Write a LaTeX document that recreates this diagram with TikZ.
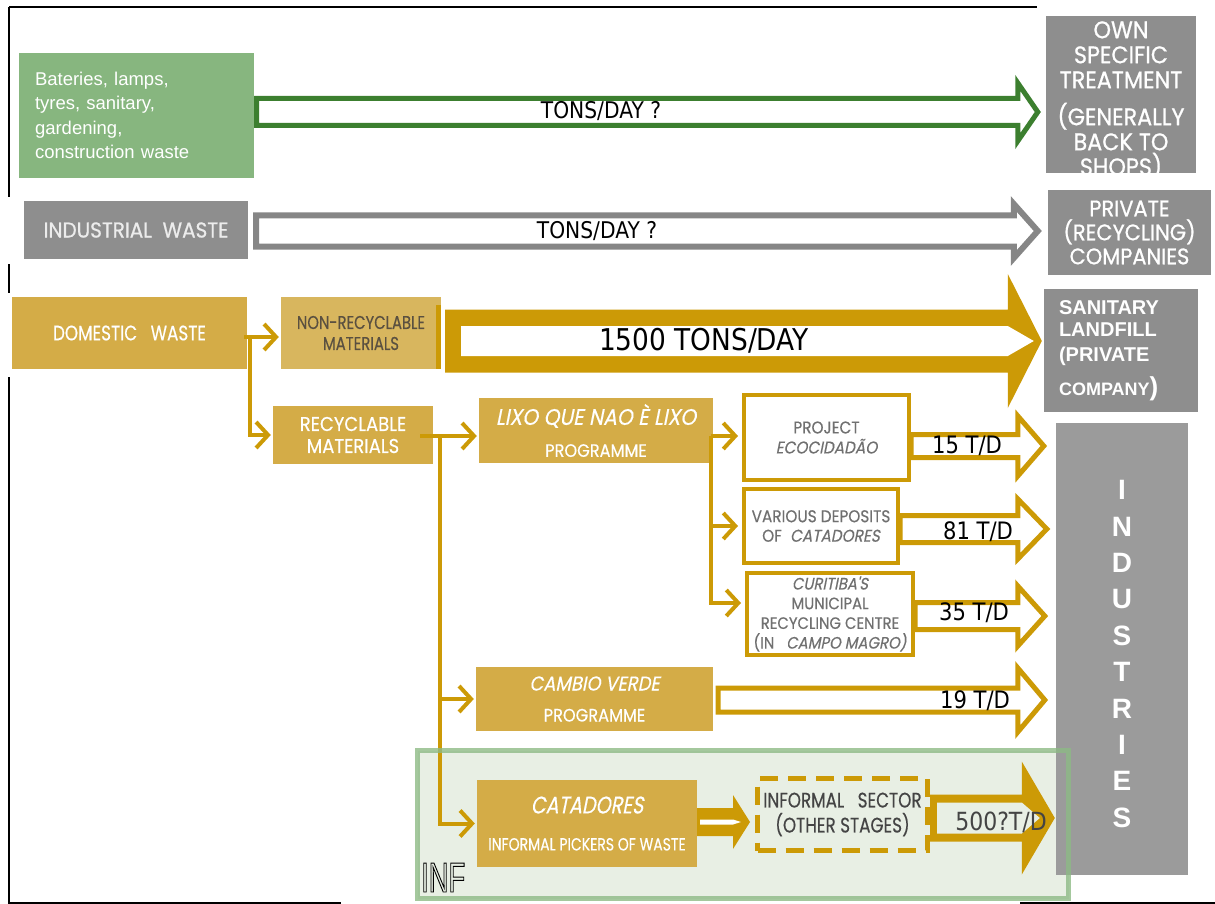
\documentclass[tikz,border=0pt]{standalone}
\usepackage{fontspec}
\setmainfont{Liberation Sans}
\newfontfamily\goth[FakeStretch=0.8,FakeBold=0.4]{Poppins}
\newfontfamily\gothi[FakeStretch=0.8,FakeSlant=0.2,FakeBold=0.4]{Poppins}
\newfontfamily\gothm[FakeStretch=0.9,FakeBold=0.4]{Poppins}
\newfontfamily\gothmi[FakeStretch=0.9,FakeSlant=0.2,FakeBold=0.4]{Poppins}
\newfontfamily\gothw[FakeStretch=0.93,FakeBold=0.8]{Poppins}
\newfontfamily\tdfont[FakeStretch=0.88]{DejaVu Sans}
\newfontfamily\narrowfont[FakeStretch=0.65]{Liberation Sans}
\usetikzlibrary{arrows.meta,calc}

\definecolor{goldfill}{HTML}{D4AC47}
\definecolor{goldlight}{HTML}{D8B65E}
\definecolor{goldline}{HTML}{CC9A06}
\definecolor{greenfill}{HTML}{87B67F}
\definecolor{greenline}{HTML}{3C7F2F}
\definecolor{grayfill}{HTML}{8E8E8E}
\definecolor{indgray}{HTML}{9B9B9B}
\definecolor{grayline}{HTML}{868686}
\definecolor{graylight}{HTML}{ECECEC}
\definecolor{infback}{HTML}{E8EFE4}
\definecolor{infline}{HTML}{8DBA85}
\definecolor{textgray}{HTML}{707070}
\definecolor{darktext}{HTML}{5A5040}
\definecolor{labelgray}{HTML}{444444}

\newcommand\fs[2]{\fontsize{#1}{#2}\selectfont}

% hollow block arrow: style, start point, tip point, half shaft, half head, head length
\newcommand\fatarrow[6]{%
  \path[#1] let \p1=#2, \p2=#3 in
    (\x1,\y1+#4) -- (\x2-#6,\y1+#4) -- (\x2-#6,\y1+#5) -- (\x2,\y1)
    -- (\x2-#6,\y1-#5) -- (\x2-#6,\y1-#4) -- (\x1,\y1-#4) -- cycle;}

\tikzset{
  gbox/.style={fill=goldfill, inner sep=0pt, align=center, text=white},
  graybox/.style={fill=grayfill, inner sep=0pt, align=center, text=white},
  wbox/.style={draw=goldline, line width=4pt, fill=white, inner sep=0pt, align=center, text=textgray},
  conn/.style={draw=goldline, line width=4pt, -{Straight Barb[length=12pt,width=26pt]}},
  lbl/.style={inner sep=0pt, font=\tdfont\fs{23}{23}},
  hollowgold/.style={draw=goldline, line width=5pt, fill=white},
}

\begin{document}
\begin{tikzpicture}[x=1pt,y=-1pt]
\useasboundingbox (0,0) rectangle (1215,904);

% frame
\draw[line width=2pt] (9,7) -- (1037,7);
\draw[line width=2pt] (9,7) -- (9,197) (9,264) -- (9,293) (9,377) -- (9,903) -- (341,903);
\draw[line width=2pt] (1020,903) -- (1215,903);

% informal sector area
\node[fill=infback, minimum width=651pt, minimum height=148pt, inner sep=0pt] (inf) at (743,824.5) {};

% sources and destinations
\node[fill=greenfill, text=white, align=left, text width=203pt, inner xsep=16pt, inner ysep=0pt,
      minimum width=235pt, minimum height=125pt, font=\fs{18.5}{24.3}] (green) at (136.5,115.5)
      {\raisebox{3pt}{\parbox{203pt}{Bateries, lamps,\\tyres, sanitary,\\gardening,\\construction waste}}};
\node[graybox, text=graylight, minimum width=224pt, minimum height=58pt, font=\gothw\fs{21.5}{24}] (indw) at (136,230) {INDUSTRIAL\ \ WASTE};

\begin{scope}
  \clip (1046,16) rectangle (1196,173);
  \node[graybox, minimum width=150pt, minimum height=169pt, font=\gothw\fs{24}{25}] (own) at (1121,100.5)
    {OWN\\SPECIFIC\\TREATMENT\\[12pt](GENERALLY\\BACK TO\\SHOPS)};
\end{scope}
\node[graybox, minimum width=163pt, minimum height=85pt, font=\gothw\fs{22.5}{24}] (priv) at (1129.5,232.5) {PRIVATE\\(RECYCLING)\\COMPANIES};
\node[graybox, align=left, text width=124pt, minimum width=154pt, minimum height=123pt, font=\bfseries\fs{20}{22}] (landfill) at (1121,350.5)
  {SANITARY\\LANDFILL\\[3pt](PRIVATE\\[10pt]{\fs{18}{22}COMPANY}{\fs{26}{22})}};
\node[graybox, fill=indgray, minimum width=132pt, minimum height=452pt,
      label={[align=center, text=white, font=\bfseries\fs{28}{36.4}, yshift=-5pt]center:I\\N\\D\\U\\S\\T\\R\\I\\E\\S}] (ind) at (1122,649) {};

% domestic waste chain
\node[gbox, minimum width=235pt, minimum height=72pt, font=\goth\fs{21}{24}] (dom) at (129.5,333) {DOMESTIC\ \ \ WASTE};
\node[gbox, fill=goldlight, text=darktext, minimum width=160pt, minimum height=72pt, font=\goth\fs{18.5}{21}] (nonrec) at (361,333) {NON-RECYCLABLE\\MATERIALS};
\fill[goldline] ($(nonrec.north east)+(-5,8)$) rectangle (nonrec.south east);
\node[gbox, minimum width=160pt, minimum height=58pt, font=\gothm\fs{20}{22}] (recyc) at (353,435) {RECYCLABLE\\MATERIALS};
\node[gbox, minimum width=234pt, minimum height=65pt, font=\gothm\fs{18}{32}] (lixo) at (596,430.5) {{\gothmi\fs{22.5}{32}LIXO QUE NAO È LIXO}\\PROGRAMME};
\node[wbox, minimum width=165pt, minimum height=85pt, font=\gothm\fs{17}{20}] (eco) at (826.5,437.5) {PROJECT\\{\gothmi ECOCIDADÃO}};
\node[wbox, minimum width=154pt, minimum height=74pt, font=\gothm\fs{17}{19.5}] (dep) at (821,526) {VARIOUS DEPOSITS\\OF\ \ {\gothmi CATADORES}};
\node[wbox, minimum width=166pt, minimum height=82pt, font=\gothm\fs{16.5}{19.7}] (cur) at (830,614)
  {{\gothmi CURITIBA'S}\\MUNICIPAL\\RECYCLING CENTRE\\(IN\ \ \ {\gothmi CAMPO MAGRO)}};
\node[gbox, minimum width=237pt, minimum height=64pt, font=\gothm\fs{18}{31}] (cambio) at (594.5,699) {{\gothmi\fs{20}{31}CAMBIO VERDE}\\PROGRAMME};
\node[gbox, minimum width=220pt, minimum height=87pt, font=\goth\fs{17.5}{37}] (cat) at (587,823.5) {{\gothi\fs{24}{37}CATADORES}\\INFORMAL PICKERS OF WASTE};
\node[draw=goldline, line width=5pt, dash pattern=on 18pt off 10pt, inner sep=0pt, align=center, text=labelgray,
      minimum width=170pt, minimum height=72pt, font=\goth\fs{21}{25}] (infs) at (842.5,814.5) {INFORMAL\ \ \ SECTOR\\(OTHER STAGES)};

% block arrows
\fatarrow{draw=greenline, line width=5pt, fill=white}{([xshift=2.5pt,yshift=3.5pt]green.east)}{([xshift=-8pt]own.west)}{13.5pt}{29pt}{20pt}
\fatarrow{draw=grayline, line width=6pt, fill=white}{([xshift=8pt,yshift=-1pt]indw.east)}{([xshift=-10pt]priv.west)}{15.5pt}{27pt}{24pt}
\fatarrow{fill=goldline}{([xshift=4pt,yshift=-8pt]nonrec.east)}{([xshift=-2pt]landfill.west)}{31.5pt}{67pt}{34pt}
\fatarrow{fill=white}{([xshift=20pt,yshift=-8pt]nonrec.east)}{([xshift=-10pt]landfill.west)}{15pt}{15pt}{26pt}
\fatarrow{hollowgold}{([yshift=-8.5pt]eco.east)}{([xshift=-12pt]ind.west)}{11.5pt}{30pt}{26pt}
\fatarrow{hollowgold}{([yshift=-3pt]dep.east)}{([xshift=-9pt]ind.west)}{13.5pt}{30pt}{29pt}
\fatarrow{hollowgold}{([yshift=-2pt]cur.east)}{([xshift=-11pt]ind.west)}{13.5pt}{30pt}{27pt}
\fatarrow{hollowgold}{([xshift=5pt,yshift=-1pt]cambio.east)}{([xshift=-11pt]ind.west)}{12pt}{32pt}{27pt}
\fatarrow{fill=goldline}{([yshift=1.5pt]cat.east)}{([xshift=-5pt]infs.west)}{14pt}{27pt}{17pt}
\fatarrow{fill=white}{([xshift=3pt,yshift=1.5pt]cat.east)}{([xshift=-14pt]infs.west)}{2.5pt}{2.5pt}{8pt}
\fatarrow{fill=goldline}{([yshift=-3.5pt]infs.east)}{([xshift=-1pt]ind.west)}{23.5pt}{56.5pt}{33pt}
\fatarrow{fill=infback}{([xshift=7pt,yshift=-3.5pt]infs.east)}{([xshift=-16pt]ind.west)}{15.5pt}{15.5pt}{18pt}

% quantities
\node[lbl] (q1) at (601,111) {TONS/DAY ?};
\node[lbl] (q2) at (597,231) {TONS/DAY ?};
\node[lbl, font=\tdfont\fs{30}{30}] (q3) at (704,341) {1500 TONS/DAY};
\node[lbl, font=\tdfont\fs{24}{24}] (q4) at (967,446) {15 T/D};
\node[lbl, font=\tdfont\fs{24}{24}] (q5) at (978,532) {81 T/D};
\node[lbl, font=\tdfont\fs{24}{24}] (q6) at (974,613) {35 T/D};
\node[lbl, font=\tdfont\fs{24}{24}] (q7) at (975,701) {19 T/D};
\node[lbl, font=\tdfont\fs{25}{25}, text=labelgray] (q8) at (1001,822) {500?T/D};

% thin connectors
\draw[conn] ([xshift=-3pt,yshift=-4pt]dom.east) -- ([xshift=-2pt,yshift=-4pt]nonrec.west);
\draw[conn] ([xshift=3pt,yshift=-4pt]dom.east) |- ($(recyc.west)+(-2,0)$);
\coordinate (r0) at ([xshift=-13pt,yshift=-1pt]recyc.east);
\coordinate (r1) at ([xshift=7pt,yshift=-1pt]recyc.east);
\draw[conn] (r0) -- ($(r0 -| lixo.west)+(-2,0)$);
\draw[conn] (r1) |- ($(cat.west)+(-2,0)$);
\draw[conn] (r1 |- cambio.west) -- ($(cambio.west)+(-2,0)$);
\coordinate (l0) at ([xshift=-2pt,yshift=-5.5pt]lixo.east);
\draw[conn] (l0) -- ($(l0 -| eco.west)+(-4,0)$);
\draw[conn] (l0) |- ($(dep.west)+(-4,0)$);
\draw[conn] (l0) |- ($(cur.west)+(-4,-11)$);

% informal sector frame and tag
\draw[infline, line width=5pt, opacity=0.8] (inf.north west) rectangle (inf.south east);
\node[inner sep=0pt, anchor=base west, font=\narrowfont\fs{42}{42}, text=black] (inftag) at (421,892)
  {\special{pdf:literal direct 1 Tr 0.9 w}INF\special{pdf:literal direct 0 Tr}};
\end{tikzpicture}
\end{document}
